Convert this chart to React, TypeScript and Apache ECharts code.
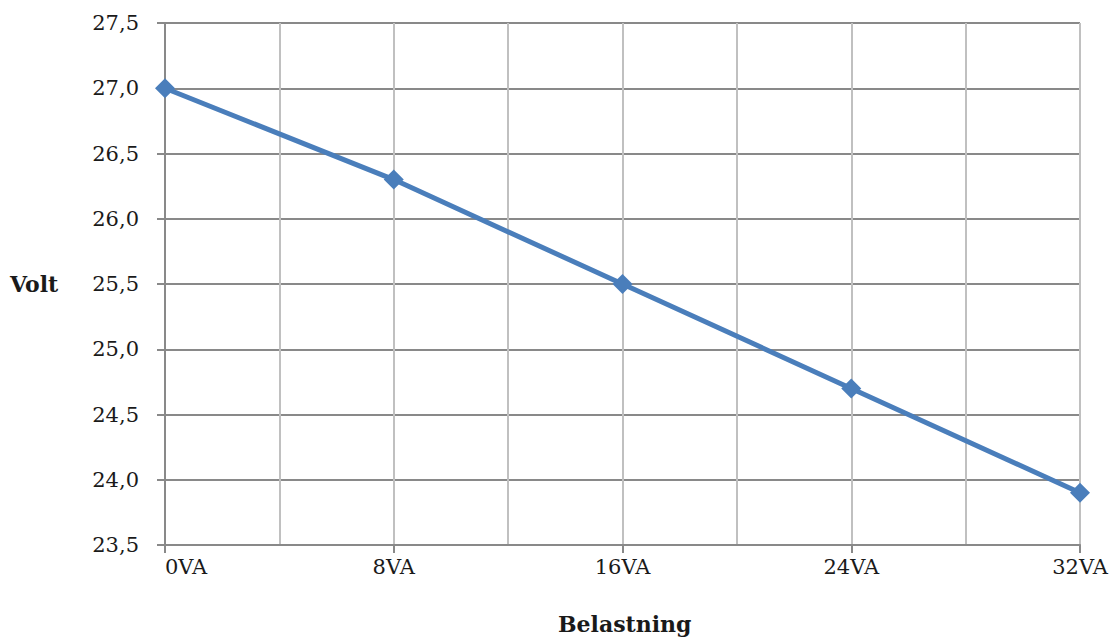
import React, { useEffect, useRef } from "react";
import * as echarts from "echarts";

const loads: number[] = [0, 8, 16, 24, 32];
const volts: number[] = [27.0, 26.3, 25.5, 24.7, 23.9];
const xUnit = "VA";
const yTitle = "Volt";
const xTitle = "Belastning";

export default function App() {
  const ref = useRef<HTMLDivElement>(null);
  useEffect(() => {
    document.body.style.margin = "0";
    if (!ref.current) return;
    const chart = echarts.init(ref.current, null, { renderer: "svg" });
    const font = "'DejaVu Serif', 'Liberation Serif', serif";
    chart.setOption({
      animation: false,
      backgroundColor: "#ffffff",
      grid: { left: 165, right: 34, top: 23, bottom: 96, containLabel: false },
      xAxis: {
        type: "value",
        min: 0,
        max: 32,
        interval: 8,
        axisLine: { show: true, lineStyle: { color: "#898989", width: 2 } },
        axisTick: { show: true, length: 8, lineStyle: { color: "#898989", width: 2 } },
        axisLabel: {
          margin: 11,
          color: "#1a1a1a",
          fontFamily: font,
          fontSize: 21,
          alignMinLabel: "left",
          formatter: (v: number) => `${v}${xUnit}`,
        },
        splitLine: { show: true, lineStyle: { color: "#c0c0c0", width: 2 } },
        minorTick: { show: false, splitNumber: 2 },
        minorSplitLine: { show: true, lineStyle: { color: "#c0c0c0", width: 2 } },
      },
      yAxis: {
        type: "value",
        min: 23.5,
        max: 27.5,
        interval: 0.5,
        axisLine: { show: true, lineStyle: { color: "#898989", width: 2 } },
        axisTick: { show: true, length: 8, lineStyle: { color: "#898989", width: 2 } },
        axisLabel: {
          margin: 26,
          color: "#1a1a1a",
          fontFamily: font,
          fontSize: 21,
          formatter: (v: number) => v.toFixed(1).replace(".", ","),
        },
        splitLine: { show: true, lineStyle: { color: "#898989", width: 2 } },
      },
      series: [
        {
          type: "line",
          data: loads.map((x, i) => [x, volts[i]]),
          symbol: "diamond",
          symbolSize: 20,
          lineStyle: { color: "#4a7ebb", width: 5 },
          itemStyle: { color: "#4a7ebb" },
          clip: false,
        },
      ],
      graphic: [
        {
          type: "text",
          left: 10,
          top: 273,
          style: { text: yTitle, font: `bold 22px ${font}`, fill: "#1a1a1a" },
        },
        {
          type: "text",
          left: 558,
          top: 613,
          style: { text: xTitle, font: `bold 22px ${font}`, fill: "#1a1a1a" },
        },
      ],
    });
    return () => chart.dispose();
  }, []);
  return <div ref={ref} style={{ width: 1114, height: 641 }} />;
}
